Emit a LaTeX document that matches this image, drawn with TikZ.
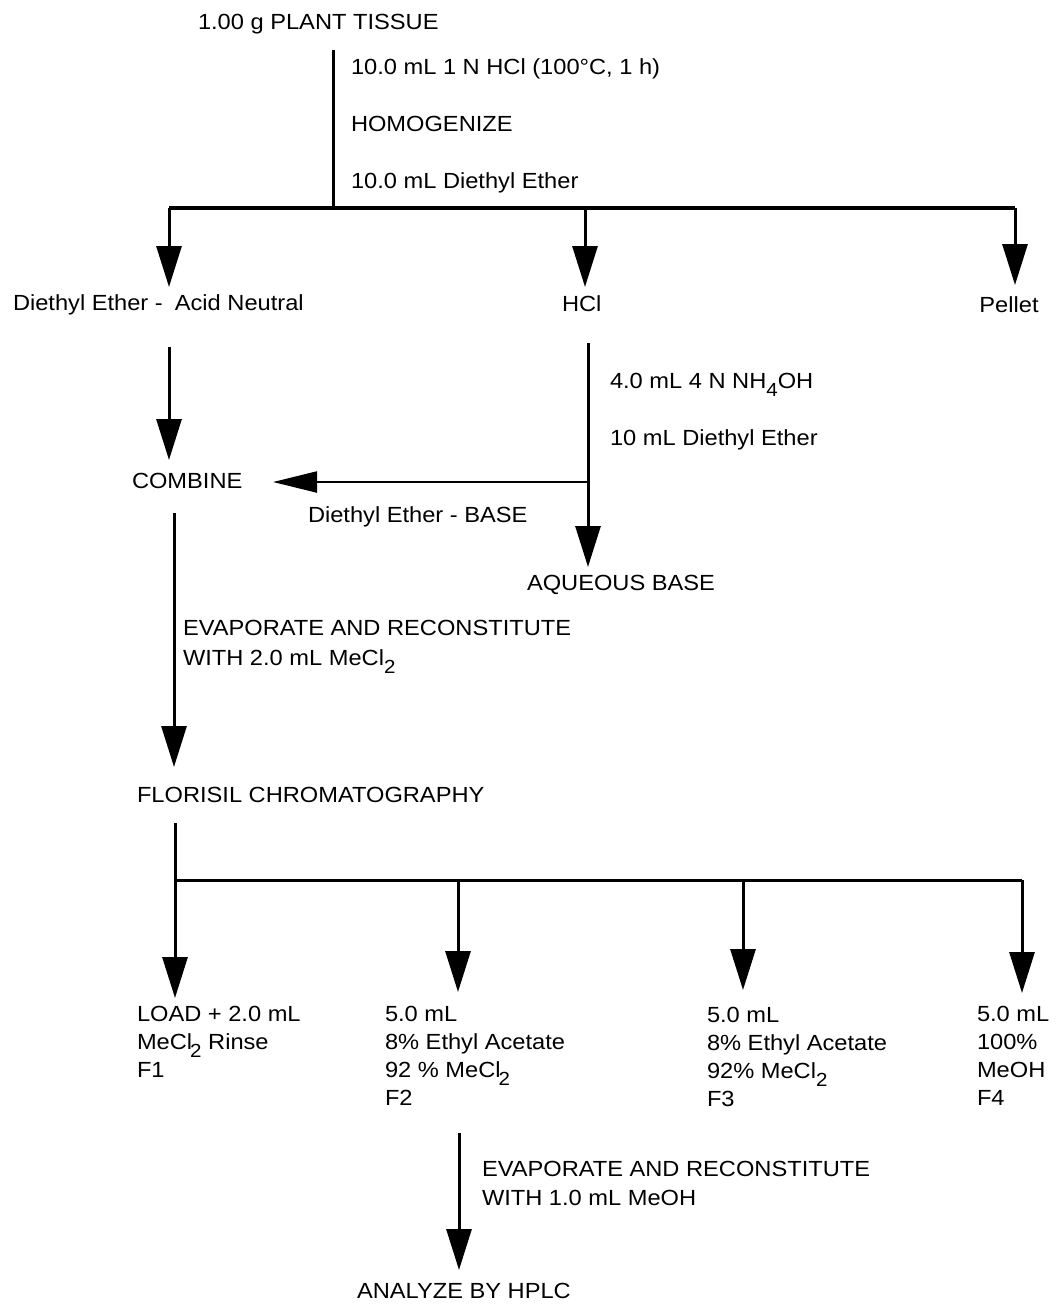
\documentclass[tikz,border=0pt]{standalone}
\usepackage{fontspec}
\setmainfont{Liberation Sans}[FakeStretch=1.08]
\usetikzlibrary{arrows.meta}
\newcommand{\lowsub}[1]{\raisebox{-0.4em}{\fontsize{19}{19}\selectfont #1}}
\begin{document}
\begin{tikzpicture}[x=1pt,y=-1pt,
  lbl/.style={anchor=base west,inner sep=0pt,outer sep=0pt,font=\fontsize{21.9}{26}\selectfont},
  ln/.style={line width=3pt},
  arr/.style={line width=3pt,-{Triangle[width=25pt,length=41pt]}},
  harr/.style={line width=2.2pt,-{Triangle[width=21pt,length=44pt]}}]
\useasboundingbox (0,0) rectangle (1056,1307);

% top
\node[lbl] (plant) at (198,29) {1.00 g PLANT TISSUE};
\coordinate (t0) at (333,50);
\coordinate (t1) at (333,208);
\draw[ln] (t0) -- (t1);
\node[lbl] (s1) at (351,74) {10.0 mL 1 N HCl (100°C, 1 h)};
\node[lbl] (s2) at (351,131) {HOMOGENIZE};
\node[lbl] (s3) at (351,188) {10.0 mL Diethyl Ether};

\coordinate (hl) at (169,208);
\coordinate (hm) at (585,208);
\coordinate (hr) at (1015,208);
\draw[line width=3.2pt] (hl) -- (hr);
\coordinate (tipA) at (169,287);
\coordinate (tipB) at (585,287);
\coordinate (tipC) at (1015,285);
\draw[arr] (hl) -- (tipA);
\draw[arr] (hm) -- (tipB);
\draw[arr] (hr) -- (tipC);

\node[lbl] (ether) at (13,310) {Diethyl Ether -\hspace{0.55em}Acid Neutral};
\node[lbl] (hcl) at (562,311) {HCl};
\node[lbl,anchor=base] (pellet) at (1009,312) {Pellet};

% acid neutral -> combine
\coordinate (c0) at (169,347);
\coordinate (c1) at (169,460);
\draw[arr] (c0) -- (c1);
\node[lbl] (combine) at (132,488) {COMBINE};

% HCl branch
\coordinate (b0) at (588,343);
\coordinate (bj) at (588,482);
\coordinate (b1) at (588,567);
\draw[arr] (b0) -- (b1);
\node[lbl] (nh4) at (610,388) {4.0 mL 4 N NH\lowsub{4}OH};
\node[lbl] (ether10) at (610,445) {10 mL Diethyl Ether};
\coordinate (btip) at (273,482);
\draw[harr] (bj) -- (btip);
\node[lbl] (etherbase) at (308,522) {Diethyl Ether - BASE};
\node[lbl] (aqbase) at (527,590) {AQUEOUS BASE};

% combine -> florisil
\coordinate (d0) at (174,513);
\coordinate (d1) at (174,767);
\draw[arr] (d0) -- (d1);
\node[lbl] (evap1) at (183,635) {EVAPORATE AND RECONSTITUTE};
\node[lbl] (evap1b) at (183,665) {WITH 2.0 mL MeCl\lowsub{2}};
\node[lbl] (florisil) at (137,802) {FLORISIL CHROMATOGRAPHY};

% florisil fractions
\coordinate (f0) at (175,823);
\coordinate (fa) at (175,880);
\coordinate (fb) at (458,880);
\coordinate (fc) at (743,880);
\coordinate (fd) at (1022,880);
\draw[ln] (f0) -- (fa);
\draw[line width=3pt] (fa) -- (fd);
\coordinate (fta) at (175,998);
\coordinate (ftb) at (458,992);
\coordinate (ftc) at (743,990);
\coordinate (ftd) at (1022,993);
\draw[arr] (fa) -- (fta);
\draw[arr] (fb) -- (ftb);
\draw[arr] (fc) -- (ftc);
\draw[arr] (fd) -- (ftd);

\node[lbl] (f1a) at (137,1021) {LOAD + 2.0 mL};
\node[lbl] (f1b) at (137,1049) {MeCl\kern-2pt\lowsub{2} Rinse};
\node[lbl] (f1c) at (137,1077) {F1};

\node[lbl] (f2a) at (385,1021) {5.0 mL};
\node[lbl] (f2b) at (385,1049) {8\% Ethyl Acetate};
\node[lbl] (f2c) at (385,1077) {92 \% MeCl\kern-2pt\lowsub{2}};
\node[lbl] (f2d) at (385,1105) {F2};

\node[lbl] (f3a) at (707,1022) {5.0 mL};
\node[lbl] (f3b) at (707,1050) {8\% Ethyl Acetate};
\node[lbl] (f3c) at (707,1078) {92\% MeCl\lowsub{2}};
\node[lbl] (f3d) at (707,1106) {F3};

\node[lbl] (f4a) at (977,1021) {5.0 mL};
\node[lbl] (f4b) at (977,1049) {100\%};
\node[lbl] (f4c) at (977,1077) {MeOH};
\node[lbl] (f4d) at (977,1105) {F4};

% F2 -> HPLC
\coordinate (g0) at (459,1133);
\coordinate (g1) at (459,1270);
\draw[arr] (g0) -- (g1);
\node[lbl] (evap2) at (482,1176) {EVAPORATE AND RECONSTITUTE};
\node[lbl] (evap2b) at (482,1205) {WITH 1.0 mL MeOH};
\node[lbl] (hplc) at (357,1298) {ANALYZE BY HPLC};
\end{tikzpicture}
\end{document}
